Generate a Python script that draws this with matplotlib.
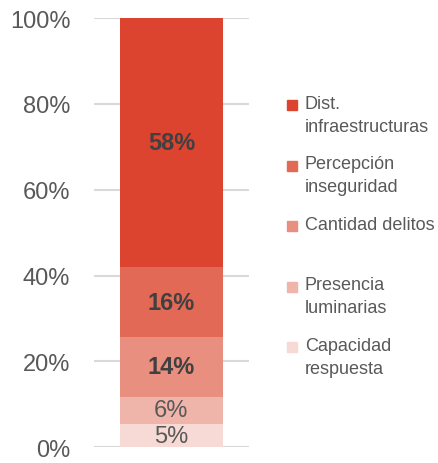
import matplotlib.pyplot as plt
from matplotlib.patches import Rectangle
from matplotlib.ticker import PercentFormatter

plt.rcParams['font.family'] = ['Liberation Sans', 'DejaVu Sans']

# bottom to top
categories = ["Capacidad\nrespuesta", "Presencia\nluminarias", "Cantidad delitos",
              "Percepción\ninseguridad", "Dist.\ninfraestructuras"]
values = [5.4, 6.4, 13.8, 16.4, 58.0]
labels = ["5%", "6%", "14%", "16%", "58%"]
colors = ["#F7DAD5", "#F0B5AA", "#E88F80", "#E16956", "#DC4430"]
bold = [False, False, True, True, True]

fig = plt.figure(figsize=(4.39, 4.64), dpi=100)
ax = fig.add_axes([0.214, 0.034, 0.353, 0.925])

bottom = 0
for v, lab, c, b in zip(values, labels, colors, bold):
    ax.bar(0, v, width=1.0, bottom=bottom, color=c, zorder=2)
    ax.text(0, bottom + v / 2, lab, ha='center', va='center',
            fontsize=17, color='#404040' if b else '#595959',
            fontweight='bold' if b else 'normal', zorder=3)
    bottom += v

ax.set_xlim(-0.75, 0.75)
ax.set_ylim(0, 100)
ax.set_yticks([0, 20, 40, 60, 80, 100])
ax.yaxis.set_major_formatter(PercentFormatter(decimals=0))
ax.tick_params(axis='y', length=0, pad=17, labelsize=17, labelcolor='#595959')
ax.set_xticks([])
ax.grid(axis='y', color='#d9d9d9', linewidth=1.5, zorder=0)
for s in ax.spines.values():
    s.set_visible(False)

# legend, top entry first, one 60px slot per entry
H = 464
for i, (cat, c) in enumerate(zip(categories[::-1], colors[::-1])):
    yc = 106 + 60.5 * i
    fig.patches.append(Rectangle((287 / 439, 1 - (yc + 5) / H), 10 / 439, 10 / H,
                                 transform=fig.transFigure, color=c))
    fig.text(305 / 439, 1 - (yc - 10) / H, cat, fontsize=13, color='#595959',
             va='top', ha='left', linespacing=1.45)

fig.savefig("out.png", dpi=100)
